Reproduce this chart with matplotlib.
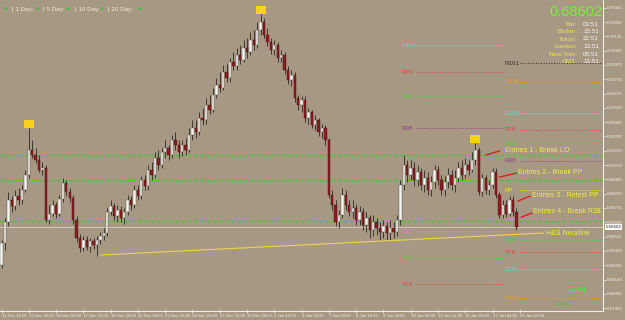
import numpy as np
import matplotlib.pyplot as plt
import matplotlib.transforms as mtransforms

plt.rcParams['font.family'] = ['Liberation Sans', 'DejaVu Sans']

# H4 candles, prices in points (1e-5); open = previous close
first_open = 68296
close_pts = [68473, 68642, 68819, 68771, 68851, 68819, 68899, 69020, 69221, 69181,
             69141, 69060, 69076, 68658, 68706, 68779, 68706, 68827, 68956, 68883,
             68835, 68658, 68514, 68433, 68497, 68441, 68489, 68457, 68497, 68530,
             68554, 68723, 68771, 68690, 68739, 68674, 68723, 68819, 68779, 68899,
             68851, 68980, 68932, 69060, 69020, 69157, 69100, 69205, 69237, 69181,
             69301, 69261, 69205, 69261, 69221, 69342, 69398, 69366, 69478, 69462,
             69583, 69543, 69663, 69744, 69720, 69848, 69800, 69929, 69896, 69985,
             69945, 70041, 70009, 70105, 70065, 70186, 70250, 70146, 70089, 70025,
             70065, 69961, 69985, 69864, 69784, 69824, 69639, 69583, 69623, 69478,
             69527, 69422, 69462, 69366, 69398, 69301, 68859, 68779, 68642, 68698,
             68859, 68779, 68723, 68755, 68658, 68723, 68618, 68674, 68578, 68642,
             68594, 68562, 68610, 68554, 68594, 68562, 68658, 68940, 69100, 69020,
             69076, 68980, 69044, 68940, 68996, 68899, 68964, 69060, 68980, 68899,
             68964, 69020, 68940, 68996, 69076, 69020, 69100, 69060, 69141, 69221,
             68883, 68996, 68899, 68940, 69044, 68859, 68698, 68779, 68706, 68819,
             68723, 68602]
high_pts = [68497, 68674, 68883, 68851, 68899, 68916, 68940, 69060, 69398, 69301,
            69237, 69181, 69125, 69100, 68779, 68819, 68803, 68859, 68996, 68980,
            68916, 68859, 68690, 68546, 68530, 68530, 68514, 68514, 68530, 68562,
            68594, 68755, 68819, 68795, 68779, 68771, 68755, 68859, 68851, 68940,
            68940, 69012, 69020, 69100, 69125, 69205, 69221, 69237, 69301, 69261,
            69342, 69366, 69301, 69301, 69318, 69398, 69462, 69462, 69527, 69559,
            69639, 69663, 69720, 69800, 69848, 69904, 69912, 69961, 70009, 70041,
            70065, 70105, 70121, 70170, 70186, 70250, 70314, 70282, 70202, 70121,
            70105, 70089, 70025, 70009, 69896, 69864, 69848, 69663, 69655, 69655,
            69559, 69543, 69502, 69478, 69430, 69422, 69318, 68899, 68819, 68739,
            68916, 68899, 68819, 68819, 68787, 68771, 68755, 68723, 68698, 68698,
            68674, 68642, 68658, 68642, 68658, 68642, 68698, 68980, 69181, 69141,
            69141, 69125, 69100, 69076, 69060, 69044, 69012, 69100, 69092, 69020,
            69012, 69076, 69060, 69060, 69125, 69141, 69157, 69141, 69205, 69277,
            69245, 69028, 69020, 68980, 69076, 69076, 68883, 68819, 68819, 68851,
            68851, 68755]
low_pts = [68272, 68417, 68610, 68723, 68739, 68779, 68787, 68883, 68996, 69157,
           69117, 69044, 69020, 68642, 68626, 68690, 68674, 68690, 68803, 68851,
           68803, 68626, 68481, 68401, 68409, 68417, 68401, 68425, 68369, 68465,
           68497, 68530, 68698, 68658, 68642, 68642, 68626, 68698, 68739, 68755,
           68819, 68827, 68899, 68899, 68980, 68996, 69060, 69076, 69157, 69141,
           69157, 69221, 69157, 69173, 69181, 69205, 69301, 69318, 69342, 69422,
           69430, 69510, 69527, 69639, 69687, 69703, 69768, 69768, 69864, 69864,
           69912, 69929, 69961, 69985, 70025, 70041, 70146, 70121, 70057, 69993,
           69985, 69929, 69929, 69832, 69752, 69736, 69607, 69543, 69527, 69446,
           69430, 69398, 69382, 69334, 69318, 69261, 68835, 68739, 68610, 68594,
           68674, 68739, 68690, 68674, 68618, 68618, 68578, 68562, 68514, 68530,
           68538, 68497, 68514, 68497, 68497, 68514, 68530, 68618, 68899, 68964,
           68980, 68932, 68932, 68899, 68883, 68859, 68851, 68916, 68940, 68859,
           68851, 68916, 68899, 68883, 68964, 68980, 68996, 69020, 69044, 69100,
           68859, 68851, 68867, 68859, 68916, 68835, 68674, 68674, 68674, 68690,
           68690, 68578]

date_labels = ['11 Dec 12:00', '12 Dec 20:00', '16 Dec 04:00', '17 Dec 12:00',
               '18 Dec 20:00', '20 Dec 04:00', '23 Dec 12:00', '24 Dec 20:00',
               '27 Dec 12:00', '30 Dec 20:00', '2 Jan 12:00', '3 Jan 20:00',
               '7 Jan 04:00', '8 Jan 12:00', '9 Jan 20:00', '13 Jan 04:00',
               '14 Jan 12:00', '15 Jan 20:00', '17 Jan 04:00', '20 Jan 12:00']

# pivot levels (points): previous period and current period
left_names = ['R100', 'R76', 'R62', 'R38', 'S38', 'S62', 'S76']
left_levels = [70065, 69848, 69655, 69398, 68570, 68353, 68144]
right_names = ['R161', 'R138', 'R100', 'R76', 'R62', 'R38', 'PP',
               'S38', 'S62', 'S76', 'S100', 'S138']
right_levels = [69920, 69768, 69518, 69382, 69277, 69133, 68899,
                68666, 68497, 68401, 68264, 68031]
green_levels = [69181, 68980, 68650]
last_price = 68602
neck_bars = [29, 159]
neck_pts = [68377, 68554]
peak_bars = [8, 76, 139]

entries = ['Entries 1 - Break LO', 'Entries 2 - Break PP',
           'Entries 3 - Retest PP', 'Entries 4 - Break R38']
entry_arrow_bars = [(142, 146), (146, 151), (151.5, 155), (152.5, 155.5)]
entry_arrow_pts = [(69181, 69213), (69003, 69035), (68811, 68851), (68682, 68714)]
entry_text_pts = [69221, 69044, 68859, 68723]
entry_text_bars = [147.6, 151.5, 155.5, 155.8]

info_names = ['Bar:', 'Broker:', 'Tokyo:', 'London:', 'New York:', 'GMT:']
info_times = ['03:51', '15:51', '22:51', '13:51', '08:51', '13:51']

sc = 1e-5
c = np.array(close_pts) * sc
h = np.array(high_pts) * sc
l = np.array(low_pts) * sc
o = np.concatenate([[first_open * sc], c[:-1]])
idx = np.arange(len(c))

bg = '#a69882'
fig = plt.figure(figsize=(6.25, 3.2), dpi=100, facecolor=bg)
ax = fig.add_axes([0, 9 / 320, 603 / 625, 311 / 320], facecolor=bg)
ax.set_xlim(-0.44, 176.4)
ax.set_ylim(0.67927, 0.70427)

# full-width lines
for lv in green_levels:
    ax.axhline(lv * sc, color='#3ccf2a', lw=0.9, dashes=(3, 2), zorder=1)
ax.axhline(last_price * sc, color='#d9d2c4', lw=0.6, zorder=1)

# pivot levels
colors = {'161': '#3a3028', '138': '#e89a30', '100': '#6fd6d0', '76': '#d84a40',
          '62': '#52d040', '38': '#8c3c8c', 'PP': '#f2e24a'}
dotted = {'161', '76', '38'}
for names, levels, x0, x1, xl in [(left_names, left_levels, 121.5, 147, 117.4),
                                  (right_names, right_levels, 152, 176.4, 147.6)]:
    for nm, lv in zip(names, levels):
        key = nm[1:] if nm != 'PP' else 'PP'
        col = colors[key]
        if nm == 'S38':
            col = '#e878e0'
        if key in dotted:
            ax.plot([x0, x1], [lv * sc, lv * sc], color=col, lw=0.7, ls=':', zorder=1)
        else:
            ax.plot([x0, x1], [lv * sc, lv * sc], color=col, lw=0.5, alpha=0.6, zorder=1)
        ax.text(xl, lv * sc, nm, color=col, fontsize=4.5, va='center', ha='left', zorder=5)

# candles
up = c >= o
ax.vlines(idx, l, h, color='#2e2a26', lw=0.6, zorder=2)
ax.bar(idx[up], (c - o)[up], bottom=o[up], width=0.7, color='#f4f4f0',
       edgecolor='#5a5550', lw=0.3, zorder=3)
ax.bar(idx[~up], (o - c)[~up], bottom=c[~up], width=0.7, color='#8e1c22',
       edgecolor='#4a1010', lw=0.3, zorder=3)

# head & shoulders neckline
ax.plot(neck_bars, np.array(neck_pts) * sc, color='#e9d25a', lw=0.8, zorder=4)
ax.text(neck_bars[1] + 0.8, neck_pts[1] * sc, 'H&S Neckline', color='#f2e65a',
        fontsize=5, va='center', ha='left', zorder=5)

# peak markers
rect = [(-1.5, -1), (1.5, -1), (1.5, 1), (-1.5, 1), (-1.5, -1)]
for b in peak_bars:
    ax.scatter(b, h[b] + 0.0003, marker=rect, s=60, color='#f8d21a', zorder=6, lw=0)

# entries
for txt, bx, py, tb, tp in zip(entries, entry_arrow_bars, entry_arrow_pts,
                               entry_text_bars, entry_text_pts):
    ax.plot(bx, np.array(py) * sc, color='#d8201c', lw=1.0, zorder=6)
    ax.text(tb, tp * sc, txt, color='#f5ea4a', fontsize=5, va='center',
            ha='left', zorder=6)

# axes styling
for s in ['left', 'top']:
    ax.spines[s].set_visible(False)
for s in ['right', 'bottom']:
    ax.spines[s].set_color('#eeeeee')
    ax.spines[s].set_linewidth(0.8)
ax.yaxis.tick_right()
yt = (67950 + 115 * np.arange(22)) * sc
ax.set_yticks(yt)
ax.set_yticklabels(['%.5f' % v for v in yt])
ax.tick_params(axis='y', colors='#f0f0f0', labelsize=3.2, length=2, width=0.5, pad=1)
ax.set_xticks(np.arange(0, 153, 8))
ax.set_xticklabels(date_labels)
ax.tick_params(axis='x', colors='#f0f0f0', labelsize=3.1, length=3, width=0.5,
               pad=0.5, direction='inout')
for t in ax.get_xticklabels():
    t.set_ha('left')

trans = mtransforms.blended_transform_factory(ax.transAxes, ax.transData)
ax.text(1.004, last_price * sc, '0.68602', transform=trans, fontsize=3.2,
        color='#222222', va='center', ha='left', clip_on=False,
        bbox=dict(boxstyle='square,pad=0.15', fc='white', ec='none'))

# top-left day ranges
fig.text(3 / 625, 1 - 9 / 320, '\u25cf', color='#38c838', fontsize=5, va='center')
xs = [12, 43, 75, 108]
for x, lab in zip(xs, ['| 1 Day:', '| 5 Day:', '| 10 Day:', '| 20 Day:']):
    fig.text(x / 625, 1 - 9 / 320, lab, color='#f2eed0', fontsize=4.5, va='center')
for x in [35, 65, 99, 137]:
    fig.text(x / 625, 1 - 9 / 320, '\u25cf', color='#38c838', fontsize=5, va='center')

# top-right info
fig.text(602 / 625, 1 - 12 / 320, '0.68602', color='#7cf03a', fontsize=10.5,
         va='center', ha='right')
for k, (nm, tm) in enumerate(zip(info_names, info_times)):
    y = 1 - (24 + 7.5 * k) / 320
    fig.text(577 / 625, y, nm, color='#f2e45a', fontsize=4.5, va='center', ha='right')
    fig.text(583 / 625, y, tm, color='#f4f4f4', fontsize=4.5, va='center', ha='left')

fig.text(568 / 625, 1 - 291 / 320, 'S161', color='#3ef03a', fontsize=6, va='center')
fig.text(556 / 625, 1 - 304 / 320, 'S200', color='#3ec83a', fontsize=4.5, va='center')

fig.savefig('out.png', dpi=100, facecolor=bg)
